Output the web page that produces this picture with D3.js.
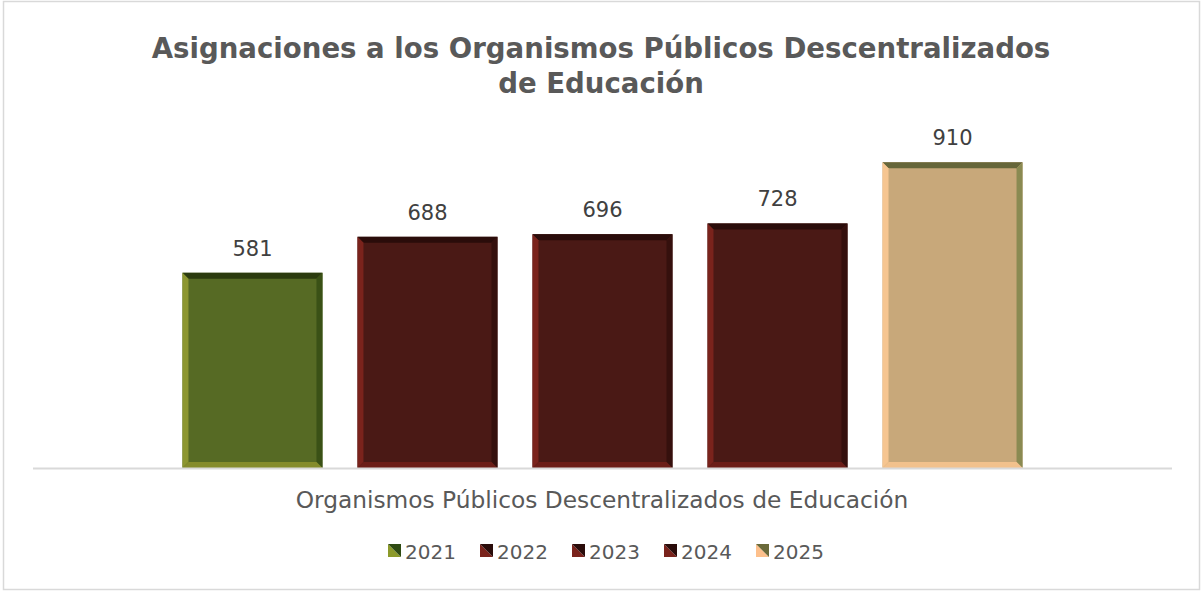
<!DOCTYPE html>
<html><head><meta charset="utf-8">
<script src="https://cdn.jsdelivr.net/npm/d3@7"></script>
<style>html,body{margin:0;padding:0;background:#fff;}svg{display:block;}</style>
</head><body>
<svg id="c" width="1202" height="591"></svg>
<script>
const titleLines = ["Asignaciones a los Organismos Públicos Descentralizados", "de Educación"];
const category = "Organismos Públicos Descentralizados de Educación";
const years = ["2021", "2022", "2023", "2024", "2025"];
const values = [581, 688, 696, 728, 910];
// fill, top bevel, left bevel, right bevel, bottom bevel
const fills   = ["#566a24", "#4a1915", "#4a1915", "#4a1915", "#c8a87a"];
const tops    = ["#2b3b0e", "#2a0c0a", "#2a0c0a", "#2a0c0a", "#66663a"];
const lefts   = ["#8c9630", "#7a231c", "#7a231c", "#7a231c", "#f6c590"];
const rights  = ["#3a5116", "#35100d", "#35100d", "#35100d", "#8a8a52"];
const bottoms = ["#858c2c", "#6c1e18", "#6c1e18", "#6c1e18", "#f2c18c"];
const legLight = ["#8c9a2a", "#7a231c", "#7a231c", "#7a231c", "#fdc08c"];
const legDark  = ["#2e4a12", "#2a0c0a", "#2a0c0a", "#2a0c0a", "#6a6a3a"];

const svg = d3.select("#c");
const font = "'DejaVu Sans', sans-serif";

svg.append("rect").attr("x", 3.5).attr("y", 1.5).attr("width", 1196).attr("height", 588)
  .attr("fill", "#fff").attr("stroke", "#d9d9d9").attr("stroke-width", 1.5);

const x = d3.scaleBand().domain(years).range([33, 1172]).paddingInner(0.2).paddingOuter(0.854);
const y = d3.scaleLinear().domain([0, 1000]).range([468, 132]);

// title
svg.append("text").attr("x", 601).attr("y", 58).attr("text-anchor", "middle")
  .attr("font-family", font).attr("font-weight", "bold").attr("font-size", 27.6).attr("fill", "#595959")
  .selectAll("tspan").data(titleLines).join("tspan")
  .attr("x", 601).attr("dy", (d, i) => i ? 35 : 0).text(d => d);

// bars with bevel
const bev = 6;
const g = svg.append("g");
years.forEach((yr, i) => {
  const x0 = x(yr), x1 = x0 + x.bandwidth(), y0 = y(values[i]), y1 = y(0);
  const bg = g.append("g");
  bg.append("rect").attr("x", x0).attr("y", y0).attr("width", x1 - x0).attr("height", y1 - y0).attr("fill", fills[i]);
  const poly = (pts, c) => bg.append("polygon").attr("points", pts.map(p => p.join(",")).join(" ")).attr("fill", c);
  poly([[x0, y0], [x1, y0], [x1 - bev, y0 + bev], [x0 + bev, y0 + bev]], tops[i]);
  poly([[x0, y0], [x0 + bev, y0 + bev], [x0 + bev, y1 - bev], [x0, y1]], lefts[i]);
  poly([[x1, y0], [x1, y1], [x1 - bev, y1 - bev], [x1 - bev, y0 + bev]], rights[i]);
  poly([[x0, y1], [x0 + bev, y1 - bev], [x1 - bev, y1 - bev], [x1, y1]], bottoms[i]);
  g.append("text").attr("x", x0 + x.bandwidth() / 2).attr("y", y0 - 17).attr("text-anchor", "middle")
    .attr("font-family", font).attr("font-size", 21).attr("fill", "#404040").text(values[i]);
});

// axis line
svg.append("line").attr("x1", 33).attr("x2", 1172).attr("y1", y(0) + 0.5).attr("y2", y(0) + 0.5)
  .attr("stroke", "#d9d9d9").attr("stroke-width", 2);

// category label
svg.append("text").attr("x", 602).attr("y", 508).attr("text-anchor", "middle")
  .attr("font-family", font).attr("font-size", 23.3).attr("fill", "#595959").text(category);

// legend
const lx = d3.scalePoint().domain(years).range([388, 756]);
years.forEach((yr, i) => {
  const sx = lx(yr), sy = 544, s = 13;
  svg.append("polygon").attr("points", `${sx},${sy} ${sx},${sy + s} ${sx + s},${sy + s}`).attr("fill", legLight[i]);
  svg.append("polygon").attr("points", `${sx},${sy} ${sx + s},${sy} ${sx + s},${sy + s}`).attr("fill", legDark[i]);
  svg.append("text").attr("x", sx + 17).attr("y", 559).attr("font-family", font).attr("font-size", 20)
    .attr("fill", "#595959").text(yr);
});
</script>
</body></html>
